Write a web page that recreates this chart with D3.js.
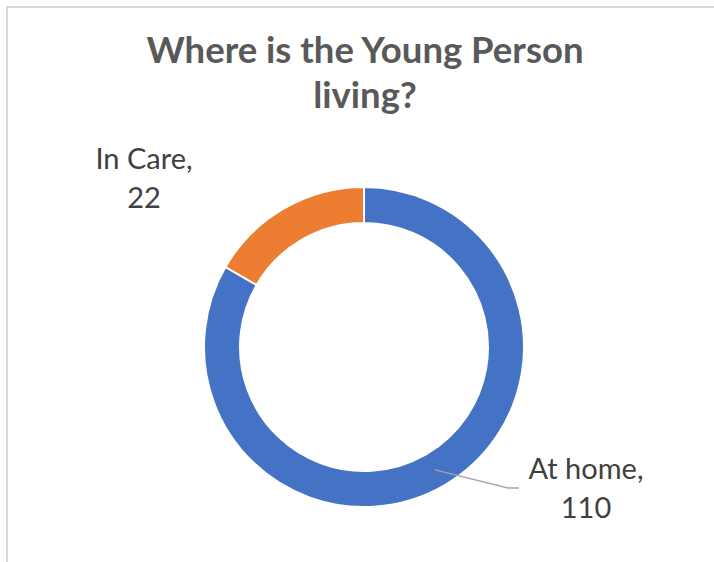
<!DOCTYPE html>
<html>
<head>
<meta charset="utf-8">
<script src="https://cdn.jsdelivr.net/npm/d3@7"></script>
<style>
  body { margin: 0; background: #fff; }
  svg { display: block; }
</style>
</head>
<body>
<div id="chart"></div>
<script>
// Chart data
const categories = ["At home", "In Care"];
const values = [110, 22];
const colors = ["#4472C4", "#ED7D31"];
const titleLines = ["Where is the Young Person", "living?"];

const width = 714, height = 562;
const cx = 364, cy = 347;
const outerR = 160, innerR = 124;

const svg = d3.select("#chart").append("svg")
  .attr("width", width)
  .attr("height", height);

// Chart frame
svg.append("rect")
  .attr("x", 7)
  .attr("y", 7)
  .attr("width", width)
  .attr("height", height)
  .attr("fill", "#fff")
  .attr("stroke", "#d9d9d9")
  .attr("stroke-width", 2);

// Title
svg.append("text")
  .attr("x", 365)
  .attr("y", 63)
  .attr("text-anchor", "middle")
  .style("font-family", "Lato, 'Open Sans', sans-serif")
  .style("font-weight", "bold")
  .style("font-size", "36.5px")
  .style("fill", "#595959")
  .selectAll("tspan")
  .data(titleLines)
  .join("tspan")
  .attr("x", 365)
  .attr("dy", (d, i) => i === 0 ? 0 : 45)
  .text(d => d);

const data = categories.map((c, i) => ({ name: c, value: values[i], color: colors[i] }));

const pie = d3.pie().sort(null).value(d => d.value);
const arc = d3.arc().innerRadius(innerR).outerRadius(outerR);
const midArc = d3.arc().innerRadius((innerR + outerR) / 2).outerRadius((innerR + outerR) / 2);

const g = svg.append("g").attr("transform", `translate(${cx},${cy})`);

const arcs = pie(data);

g.selectAll("path.slice")
  .data(arcs)
  .join("path")
  .attr("class", "slice")
  .attr("d", arc)
  .attr("fill", d => d.data.color)
  .attr("stroke", "#fff")
  .attr("stroke-width", 2);

// Leader line for "At home"
const homeArc = arcs[0];
const [sx, sy] = midArc.centroid(homeArc);
g.append("polyline")
  .attr("points", [[sx, sy], [sx + 73, sy + 18], [sx + 84, sy + 18]].map(p => p.join(",")).join(" "))
  .attr("fill", "none")
  .attr("stroke", "#a6a6a6")
  .attr("stroke-width", 1.3);

// Data labels
const labelPos = [
  { x: 222, y: 132 },   // At home, relative to centre
  { x: -220, y: -178 }  // In Care
];

arcs.forEach((d, i) => {
  const t = g.append("text")
    .attr("text-anchor", "middle")
    .style("font-family", "Lato, 'Open Sans', sans-serif")
    .style("font-size", "29px")
    .style("fill", "#404040");
  t.append("tspan")
    .attr("x", labelPos[i].x)
    .attr("y", labelPos[i].y)
    .text(d.data.name + ",");
  t.append("tspan")
    .attr("x", labelPos[i].x)
    .attr("dy", 39)
    .text(d.data.value);
});
</script>
</body>
</html>
